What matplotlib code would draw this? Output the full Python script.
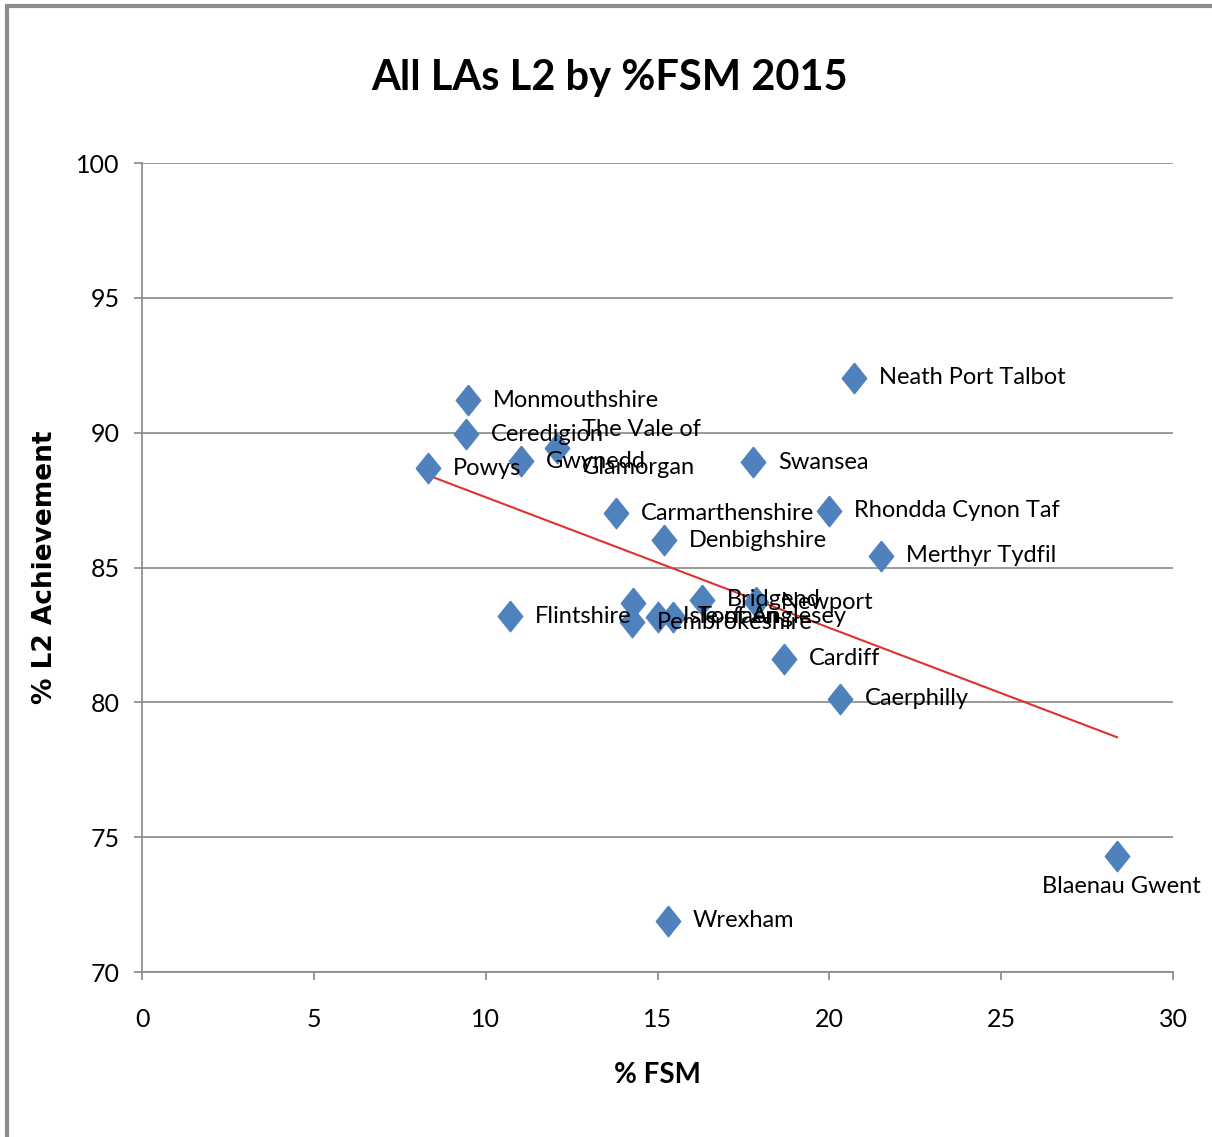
import numpy as np
import matplotlib
matplotlib.use("Agg")
import matplotlib.pyplot as plt
from matplotlib.patches import Rectangle

# data
names = ["Powys", "Monmouthshire", "Ceredigion", "Gwynedd", "The Vale of\nGlamorgan",
         "Swansea", "Neath Port Talbot", "Carmarthenshire", "Rhondda Cynon Taf",
         "Denbighshire", "Merthyr Tydfil", "Flintshire", "", "Pembrokeshire",
         "Isle of Anglesey", "Torfaen", "Bridgend", "Newport", "Cardiff",
         "Caerphilly", "Blaenau Gwent", "Wrexham"]
fsm = [8.32, 9.49, 9.43, 11.03, 12.07, 17.78, 20.72, 13.79, 19.99, 15.19, 21.50,
       10.71, 14.29, 14.26, 15.01, 15.45, 16.29, 17.86, 18.68, 20.31, 28.37, 15.30]
l2 = [88.69, 91.21, 89.95, 88.95, 89.43, 88.91, 92.03, 87.02, 87.10, 86.02, 85.43,
      83.20, 83.69, 82.98, 83.17, 83.17, 83.80, 83.72, 81.61, 80.13, 74.30, 71.90]

plt.rcParams['font.family'] = ['Lato', 'DejaVu Sans']

fig = plt.figure(figsize=(12.12, 11.37), dpi=100)
fig.patches.append(Rectangle((0.006, -0.01), 1.1, 1.005, transform=fig.transFigure,
                             fill=False, edgecolor='#8c8c8c', linewidth=3))
ax = fig.add_axes([0.1172, 0.1451, 0.8506, 0.7115])

diamond = [(0, 1), (0.8, 0), (0, -1), (-0.8, 0), (0, 1)]
ax.plot(fsm, l2, linestyle='none', marker=diamond, markersize=22,
        color='#4F81BD', zorder=3)

# linear trendline
k, b = np.polyfit(fsm, l2, 1)
xs = np.array([min(fsm), max(fsm)])
ax.plot(xs, k * xs + b, color='#E03030', linewidth=1.5, zorder=2)

for n, x, y in zip(names, fsm, l2):
    if not n:
        continue
    if n == "Blaenau Gwent":
        ax.annotate(n, (x, y), xytext=(3, -14), textcoords='offset points',
                    ha='center', va='top', fontsize=17, zorder=4)
    else:
        ax.annotate(n, (x, y), xytext=(18, 0), textcoords='offset points',
                    ha='left', va='center', fontsize=17, zorder=4,
                    linespacing=2.0)

ax.set_xlim(0, 30)
ax.set_ylim(70, 100)
ax.set_xticks(range(0, 31, 5))
ax.set_yticks(range(70, 101, 5))
ax.tick_params(labelsize=18, color='#888888', length=6, width=1.2)
ax.tick_params(axis='x', pad=20)
ax.tick_params(axis='y', pad=10)
ax.grid(axis='y', color='#888888', linewidth=1.2)
ax.set_axisbelow(True)
for s in ['top', 'right']:
    ax.spines[s].set_visible(False)
for s in ['left', 'bottom']:
    ax.spines[s].set_color('#888888')
    ax.spines[s].set_linewidth(1.2)

ax.set_xlabel('% FSM', fontsize=20, fontweight='bold', labelpad=22)
ax.set_ylabel('% L2 Achievement', fontsize=19, fontweight='bold',
              family='DejaVu Sans')
ax.yaxis.set_label_coords(-0.0815, 0.5)
fig.suptitle('All LAs L2 by %FSM 2015', x=0.503, y=0.948, fontsize=30,
             fontweight='bold')

fig.savefig('out.png', dpi=100)
